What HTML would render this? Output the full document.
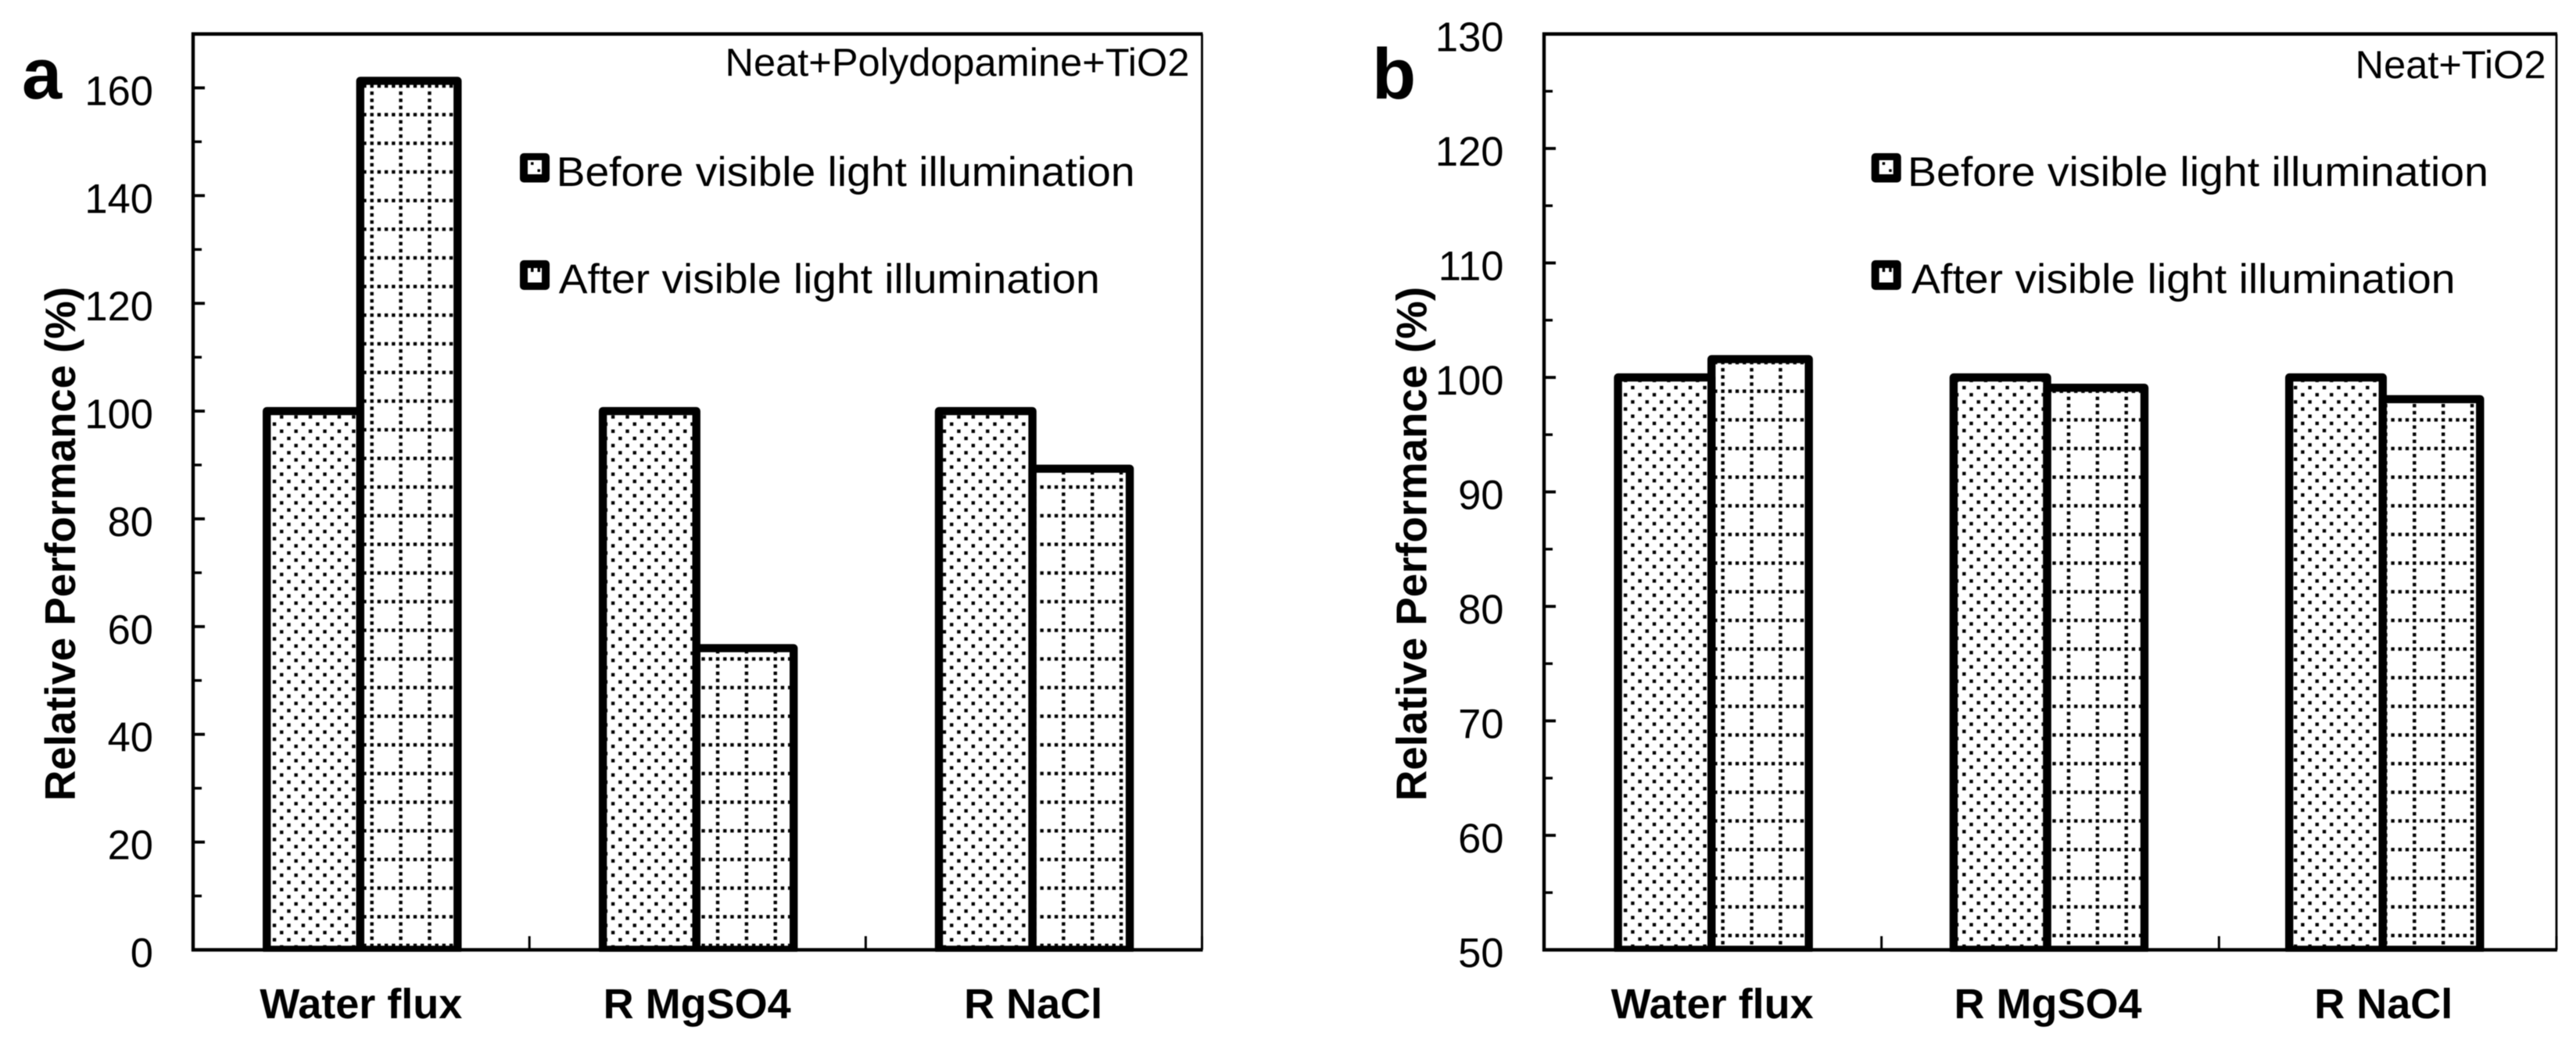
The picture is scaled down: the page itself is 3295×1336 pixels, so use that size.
<!DOCTYPE html>
<html lang="en">
<head>
<meta charset="utf-8">
<title>Relative performance before and after visible light illumination</title>
<style>
html,body{margin:0;padding:0;background:#fff;width:3295px;height:1336px;overflow:hidden}
svg{display:block;filter:blur(0.55px)}
text{font-family:"Liberation Sans",Arial,sans-serif;fill:#000}
.bold{font-weight:bold}
</style>
</head>
<body>
<svg id="figure" xmlns="http://www.w3.org/2000/svg" width="3295" height="1336" viewBox="0 0 3295 1336">
  <defs>
    <pattern id="dots-a" patternUnits="userSpaceOnUse" x="346.4" y="538.1" width="18.43" height="18.33">
      <rect x="2.4" y="2.4" width="4.4" height="4.4" fill="#000"/><rect x="11.6" y="11.55" width="4.4" height="4.4" fill="#000"/>
    </pattern>
    <pattern id="dots-b" patternUnits="userSpaceOnUse" x="2507.7" y="491.4" width="18.43" height="18.33">
      <rect x="2.4" y="2.4" width="4.4" height="4.4" fill="#000"/><rect x="11.6" y="11.55" width="4.4" height="4.4" fill="#000"/>
    </pattern>
    <pattern id="grid-a" patternUnits="userSpaceOnUse" x="471.1" y="142.1" width="36.86" height="36.66">
      <g fill="#000">
        <rect x="2.4" y="2.4" width="4.4" height="4.4"/><rect x="11.6" y="2.4" width="4.4" height="4.4"/><rect x="20.8" y="2.4" width="4.4" height="4.4"/><rect x="30" y="2.4" width="4.4" height="4.4"/>
        <rect x="2.4" y="11.6" width="4.4" height="4.4"/><rect x="2.4" y="20.8" width="4.4" height="4.4"/><rect x="2.4" y="29.9" width="4.4" height="4.4"/>
      </g>
    </pattern>
    <pattern id="grid-b" patternUnits="userSpaceOnUse" x="2641.4" y="532.7" width="36.86" height="36.66">
      <g fill="#000">
        <rect x="2.4" y="2.4" width="4.4" height="4.4"/><rect x="11.6" y="2.4" width="4.4" height="4.4"/><rect x="20.8" y="2.4" width="4.4" height="4.4"/><rect x="30" y="2.4" width="4.4" height="4.4"/>
        <rect x="2.4" y="11.6" width="4.4" height="4.4"/><rect x="2.4" y="20.8" width="4.4" height="4.4"/><rect x="2.4" y="29.9" width="4.4" height="4.4"/>
      </g>
    </pattern>
    <clipPath id="clip-a"><rect x="240" y="0" width="1310" height="1218"/></clipPath>
    <clipPath id="clip-b"><rect x="1968" y="0" width="1310" height="1218"/></clipPath>
  </defs>

  <g id="panel-a">
    <text class="bold" x="28" y="126" font-size="92">a</text>
    <text class="bold" font-size="54.5" text-anchor="middle" textLength="658" lengthAdjust="spacingAndGlyphs" transform="translate(96,696) rotate(-90)">Relative Performance (%)</text>
    <g id="bars-a" clip-path="url(#clip-a)"></g>
    <g id="axes-a"></g>
    <text font-size="50" text-anchor="end" x="1521.5" y="97" textLength="594" lengthAdjust="spacingAndGlyphs">Neat+Polydopamine+TiO2</text>
    <g>
      <g>
        <rect x="665" y="196" width="38" height="37.5" rx="5" fill="#000"/>
        <rect x="675" y="205" width="18" height="18" fill="#fff"/>
        <rect x="679" y="207.5" width="3.5" height="3.5" fill="#000"/><rect x="687.5" y="216.5" width="3.5" height="3.5" fill="#000"/>
        <text font-size="53" x="711.6" y="238" textLength="740" lengthAdjust="spacingAndGlyphs">Before visible light illumination</text>
      </g>
      <g>
        <rect x="665" y="333" width="38" height="38" rx="5" fill="#000"/>
        <rect x="675" y="343" width="18" height="18.5" fill="#fff"/>
        <rect x="679" y="343" width="3.5" height="5" fill="#000"/><rect x="687.5" y="343" width="3.5" height="5" fill="#000"/>
        <text font-size="53" x="714.8" y="375" textLength="692" lengthAdjust="spacingAndGlyphs">After visible light illumination</text>
      </g>
    </g>
  </g>

  <g id="panel-b">
    <text class="bold" x="1755" y="126" font-size="92">b</text>
    <text class="bold" font-size="54.5" text-anchor="middle" textLength="658" lengthAdjust="spacingAndGlyphs" transform="translate(1824.5,696) rotate(-90)">Relative Performance (%)</text>
    <g id="bars-b" clip-path="url(#clip-b)"></g>
    <g id="axes-b"></g>
    <text font-size="50" text-anchor="end" x="3256.6" y="100" textLength="244" lengthAdjust="spacingAndGlyphs">Neat+TiO2</text>
    <g>
      <g>
        <rect x="2393.7" y="196" width="38" height="37.5" rx="5" fill="#000"/>
        <rect x="2403.7" y="205" width="18" height="18" fill="#fff"/>
        <rect x="2407.7" y="207.5" width="3.5" height="3.5" fill="#000"/><rect x="2416.2" y="216.5" width="3.5" height="3.5" fill="#000"/>
        <text font-size="53" x="2440" y="238" textLength="743" lengthAdjust="spacingAndGlyphs">Before visible light illumination</text>
      </g>
      <g>
        <rect x="2393.7" y="333" width="38" height="38" rx="5" fill="#000"/>
        <rect x="2403.7" y="343" width="18" height="18.5" fill="#fff"/>
        <rect x="2407.7" y="343" width="3.5" height="5" fill="#000"/><rect x="2416.2" y="343" width="3.5" height="5" fill="#000"/>
        <text font-size="53" x="2445" y="375" textLength="695.6" lengthAdjust="spacingAndGlyphs">After visible light illumination</text>
      </g>
    </g>
  </g>
</svg>

<script>
const categories = ['Water flux', 'R MgSO4', 'R NaCl'];
const beforeA = [100, 100, 100];
const afterA = [161.3, 56, 89.3];
const beforeB = [100, 100, 100];
const afterB = [101.6, 99.1, 98.1];
const tickValuesA = [0, 20, 40, 60, 80, 100, 120, 140, 160];
const tickLabelsA = ['0', '20', '40', '60', '80', '100', '120', '140', '160'];
const minorTicksA = [10, 30, 50, 70, 90, 110, 130, 150];
const tickValuesB = [50, 60, 70, 80, 90, 100, 110, 120, 130];
const tickLabelsB = ['50', '60', '70', '80', '90', '100', '110', '120', '130'];
const minorTicksB = [55, 65, 75, 85, 95, 105, 115, 125];

const NS = 'http://www.w3.org/2000/svg';

function make(tag, parent) {
  const el = document.createElementNS(NS, tag);
  parent.appendChild(el);
  return el;
}

function line(parent, x1, y1, x2, y2, w, name) {
  const el = make('line', parent);
  el.setAttribute('x1', x1);
  el.setAttribute('y1', y1);
  el.setAttribute('x2', x2);
  el.setAttribute('y2', y2);
  el.setAttribute('stroke', '#000');
  el.setAttribute('stroke-width', w);
  
  
  return el;
}

function bar(parent, x0, x1, yTop, yBase, fill, name) {
  const el = make('rect', parent);
  el.setAttribute('x', x0);
  el.setAttribute('y', yTop);
  el.setAttribute('width', x1 - x0);
  el.setAttribute('height', yBase - yTop);
  el.setAttribute('fill', fill);
  el.setAttribute('stroke', '#000');
  el.setAttribute('stroke-width', 10.4);
  el.setAttribute('stroke-linejoin', 'round');
  
  
  return el;
}

function drawPanel(cfg) {
  const yTopPx = 43.5, yBasePx = 1215.5;
  const yOf = v => yBasePx - (v - cfg.yMin) / (cfg.yMax - cfg.yMin) * (yBasePx - yTopPx);
  const barsG = document.getElementById(cfg.barsId);
  const axesG = document.getElementById(cfg.axesId);
  const barBase = yOf(cfg.yMin);

  categories.forEach((cat, i) => {
    const c = cfg.barC0 + i * cfg.barStep;
    const left = c - 120.6, mid = c - 1, right = c + 123.5;
    const slug = cat.toLowerCase().replace(/\s+/g, '-');
    bar(barsG, left, mid, yOf(cfg.before[i]), barBase, 'url(#' + cfg.dots + ')', 'bar-before-' + slug + '-' + cfg.tag);
    bar(barsG, mid, right, yOf(cfg.after[i]), barBase, 'url(#' + cfg.grid + ')', 'bar-after-' + slug + '-' + cfg.tag);
  });

  line(axesG, cfg.x0, yTopPx - 2, cfg.x0, yBasePx + 2, 4.4, 'y-axis-line-' + cfg.tag);
  line(axesG, cfg.x0 - 2, yBasePx, cfg.x1 + 1, yBasePx, 4.4, 'x-axis-line-' + cfg.tag);
  line(axesG, cfg.x0 - 2, yTopPx, cfg.x1 + 1, yTopPx, 4.4, 'top-border-' + cfg.tag);
  line(axesG, cfg.x1, yTopPx, cfg.x1, yBasePx, 2.8, 'right-border-' + cfg.tag);

  cfg.ticks.forEach((v, i) => {
    const y = yOf(v);
    line(axesG, cfg.x0, y, cfg.x0 + 15, y, 3.8, 'y-tick-' + cfg.tag);
    const t = make('text', axesG);
    t.setAttribute('x', cfg.labelRight);
    t.setAttribute('y', y + 22);
    t.setAttribute('font-size', 52.5);
    t.setAttribute('text-anchor', 'end');
    
    
    t.textContent = cfg.labels[i];
  });
  cfg.minor.forEach(v => {
    const y = yOf(v);
    line(axesG, cfg.x0, y, cfg.x0 + 11, y, 3.4, 'y-minor-tick-' + cfg.tag);
  });

  const step = (cfg.x1 - cfg.x0) / categories.length;
  for (let k = 0; k <= categories.length; k++) {
    const x = cfg.x0 + k * step;
    line(axesG, x, yBasePx, x, 1198, 3, 'x-tick-' + cfg.tag);
  }
  categories.forEach((cat, i) => {
    const t = make('text', axesG);
    t.setAttribute('x', cfg.barC0 + i * cfg.barStep);
    t.setAttribute('y', 1303);
    t.setAttribute('font-size', 54);
    t.setAttribute('font-weight', 'bold');
    t.setAttribute('text-anchor', 'middle');
    
    
    t.textContent = cat;
  });
}

drawPanel({
  tag: 'a', barsId: 'bars-a', axesId: 'axes-a', dots: 'dots-a', grid: 'grid-a',
  before: beforeA, after: afterA, ticks: tickValuesA, labels: tickLabelsA, minor: minorTicksA,
  yMin: 0, yMax: 170, x0: 247, x1: 1537.5, labelRight: 196, barC0: 461.8, barStep: 429.9
});
drawPanel({
  tag: 'b', barsId: 'bars-b', axesId: 'axes-b', dots: 'dots-b', grid: 'grid-b',
  before: beforeB, after: afterB, ticks: tickValuesB, labels: tickLabelsB, minor: minorTicksB,
  yMin: 50, yMax: 130, x0: 1975, x1: 3270, labelRight: 1923.5, barC0: 2190.2, barStep: 429.3
});
</script>
</body>
</html>
